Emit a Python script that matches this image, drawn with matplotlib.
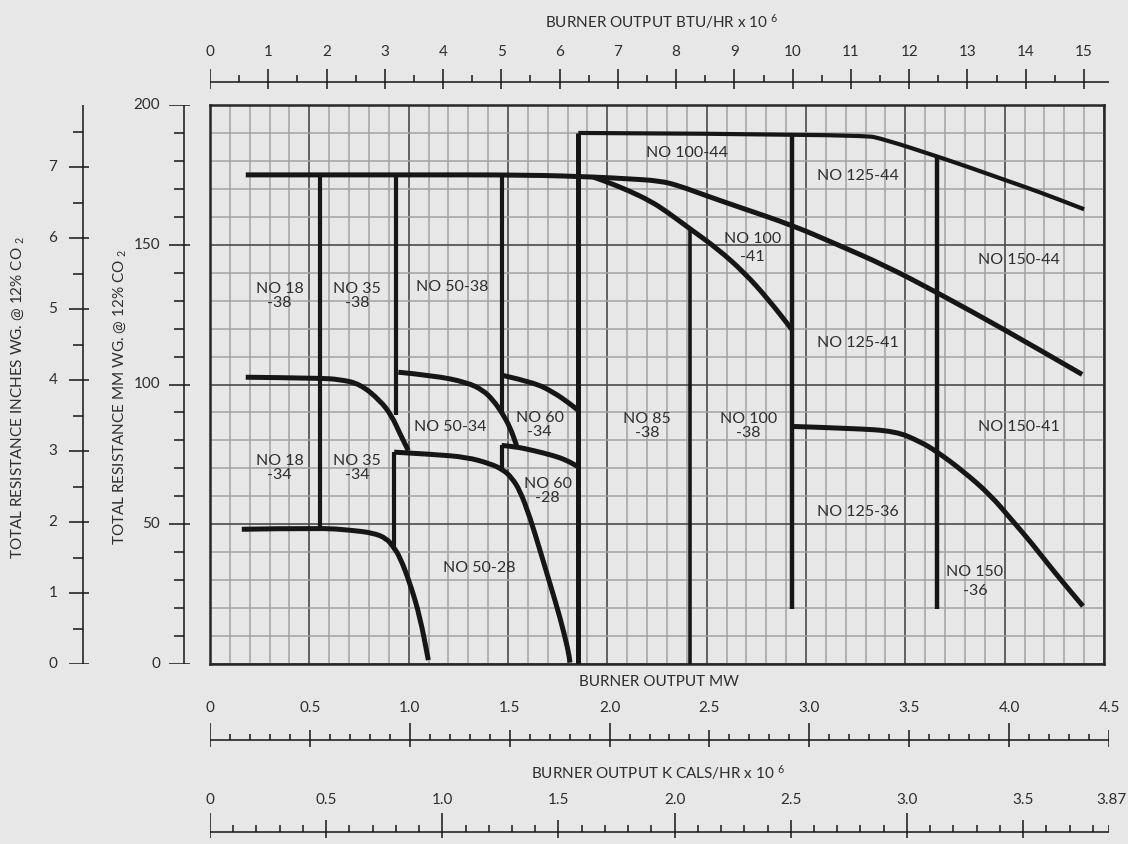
import matplotlib
matplotlib.use("Agg")
import matplotlib.pyplot as plt
from matplotlib.path import Path
from matplotlib.patches import PathPatch
import numpy as np

plt.rcParams['font.family'] = ['Lato', 'DejaVu Sans']
plt.rcParams['mathtext.default'] = 'regular'

# ---------------- data (x: burner output MW, y: resistance mm WG) ----------------
# main "38" line continuing as the NO 125-41 upper boundary
g_x = [0.18, 1.00, 1.60, 1.95, 2.10, 2.265, 2.365, 2.50, 2.67, 2.93, 3.15, 3.40, 3.66, 4.00, 4.39]
g_y = [175.0, 175.0, 175.0, 174.2, 173.6, 172.9, 171.0, 167.5, 163.3, 157.0, 150.3, 142.5, 132.9, 119.6, 103.6]
# NO 100-41 upper boundary
h_x = [1.93, 1.98, 2.11, 2.22, 2.30, 2.42, 2.556, 2.69, 2.81, 2.93]
h_y = [174.2, 173.0, 169.3, 165.5, 161.8, 155.5, 148.5, 140.0, 130.5, 119.6]
# NO 100-44 / 125-44 / 150-44 upper boundary
t_x = [1.854, 3.28, 3.40, 3.66, 3.83, 4.00, 4.17, 4.40]
t_y = [190.0, 189.5, 187.6, 181.6, 177.5, 173.2, 169.0, 162.7]
# NO 18-34 / 35-34 upper boundary
a_x = [0.18, 0.55, 0.654, 0.755, 0.856, 0.914, 0.956, 0.998]
a_y = [102.6, 102.3, 101.8, 100.2, 94.3, 88.9, 82.4, 76.4]
# NO 50-34 upper boundary
b_x = [0.948, 1.124, 1.292, 1.376, 1.426, 1.468, 1.510, 1.543]
b_y = [104.4, 103.2, 100.8, 97.9, 94.3, 90.1, 84.8, 78.2]
# NO 60-34 upper boundary
c_x = [1.476, 1.627, 1.728, 1.812, 1.854]
c_y = [103.2, 100.8, 97.3, 93.1, 90.7]
# NO 50-28 upper boundary (starts at the top of its short vertical step)
d_x = [0.927, 1.124, 1.292, 1.409, 1.476, 1.518, 1.560, 1.610, 1.661, 1.711, 1.761, 1.803, 1.812]
d_y = [75.8, 75.0, 74.0, 71.7, 69.5, 66.7, 62.1, 52.6, 40.7, 28.8, 16.9, 5.0, 0.5]
# NO 60-28 upper boundary
e_x = [1.468, 1.535, 1.627, 1.728, 1.795, 1.854]
e_y = [78.2, 77.8, 76.4, 74.6, 72.9, 70.5]
# NO 18-34 / 35-34 lower line
f_x = [0.16, 0.554, 0.705, 0.822, 0.889, 0.923, 0.956, 1.007, 1.057, 1.099]
f_y = [48.2, 48.7, 47.9, 46.9, 44.9, 41.9, 38.3, 28.8, 16.9, 1.4]
# NO 125-36 / 150-41 boundary
i_x = [2.93, 3.234, 3.452, 3.573, 3.657, 3.793, 3.929, 4.030, 4.132, 4.250, 4.394]
i_y = [85.0, 84.3, 83.3, 79.6, 76.1, 68.9, 60.4, 52.0, 43.6, 32.9, 20.7]

# vertical dividers: x, y bottom, y top
div_x = [0.556, 0.937, 1.468, 1.854, 2.416, 2.930, 3.657, 0.927, 1.468]
div_y0 = [48.7, 89.0, 90.1, 0.0, 0.0, 19.6, 19.6, 40.7, 69.5]
div_y1 = [175.0, 175.0, 175.0, 190.0, 155.3, 190.0, 181.6, 75.8, 78.2]

# region labels
lab_text = ["NO 18\n-38", "NO 35\n-38", "NO 50-38", "NO 18\n-34", "NO 35\n-34", "NO 50-34",
            "NO 60\n-34", "NO 60\n-28", "NO 50-28", "NO 85\n-38", "NO 100\n-38", "NO 125-36",
            "NO 150-41", "NO 150\n-36", "NO 100-44", "NO 125-44", "NO 100\n-41", "NO 150-44",
            "NO 125-41"]
lab_x = [0.35, 0.74, 1.22, 0.35, 0.74, 1.21, 1.66, 1.70, 1.355, 2.20, 2.71, 3.26,
         4.07, 3.85, 2.40, 3.26, 2.73, 4.07, 3.26]
lab_y = [131.7, 131.7, 134.8, 70.2, 70.2, 84.8, 85.5, 61.9, 34.5, 85.2, 85.2, 54.4,
         84.7, 29.5, 182.8, 174.7, 148.9, 144.7, 114.9]

# axis scales
btu_major = list(range(0, 16))
mw_labels = ["0", "0.5", "1.0", "1.5", "2.0", "2.5", "3.0", "3.5", "4.0", "4.5"]
mw_major = [0.0, 0.5, 1.0, 1.5, 2.0, 2.5, 3.0, 3.5, 4.0, 4.5]
kc_labels = ["0", "0.5", "1.0", "1.5", "2.0", "2.5", "3.0", "3.5", "3.87"]
kc_major = [0.0, 0.5, 1.0, 1.5, 2.0, 2.5, 3.0, 3.5, 3.87]
mm_major = [0, 50, 100, 150, 200]
in_major = [0, 1, 2, 3, 4, 5, 6, 7]

# ---------------- figure ----------------
W, H = 1128, 844
BG = '#e7e7e7'
INK = '#161616'
TXT = '#2e2e2e'
FS = 11

fig = plt.figure(figsize=(W / 100, H / 100), dpi=100, facecolor=BG)


def rect(x0, y0, x1, y1):
    return [x0 / W, 1 - y1 / H, (x1 - x0) / W, (y1 - y0) / H]


def blank(a):
    a.set_axis_off()
    a.patch.set_alpha(0)


def smooth_curve(a, xs, ys, lw):
    """Quadratic Bezier path using the read points as control points."""
    pts = list(zip(xs, ys))
    verts = [pts[0]]
    codes = [Path.MOVETO]
    for k in range(1, len(pts) - 1):
        mid = ((pts[k][0] + pts[k + 1][0]) / 2, (pts[k][1] + pts[k + 1][1]) / 2)
        verts += [pts[k], mid]
        codes += [Path.CURVE3, Path.CURVE3]
    verts.append(pts[-1])
    codes.append(Path.LINETO)
    a.add_patch(PathPatch(Path(verts, codes), fill=False, edgecolor=INK, lw=lw,
                          joinstyle='round', capstyle='butt', zorder=3))


# main chart
ax = fig.add_axes(rect(210, 105, 1104, 664))
ax.set_facecolor(BG)
ax.set_xlim(0, 4.5)
ax.set_ylim(0, 200)
ax.set_xticks(np.arange(0, 4.51, 0.5))
ax.set_xticks(np.arange(0, 4.51, 0.1), minor=True)
ax.set_yticks(np.arange(0, 201, 50))
ax.set_yticks(np.arange(0, 201, 10), minor=True)
ax.grid(which='minor', color='#a2a2a2', lw=1.1)
ax.grid(which='major', color='#4a4a4a', lw=1.2)
ax.tick_params(which='both', length=0, labelbottom=False, labelleft=False)
ax.set_axisbelow(True)
for s in ax.spines.values():
    s.set_color('#262626')
    s.set_linewidth(1.8)

for xs, ys in [(g_x, g_y), (h_x, h_y), (a_x, a_y), (b_x, b_y), (c_x, c_y),
               (d_x, d_y), (e_x, e_y), (f_x, f_y), (i_x, i_y)]:
    smooth_curve(ax, xs, ys, 3.6)
smooth_curve(ax, t_x, t_y, 3.0)
div_w = [3.0, 3.0, 3.0, 3.6, 2.6, 3.2, 3.2, 3.0, 3.0]
for x, y0, y1, w in zip(div_x, div_y0, div_y1, div_w):
    ax.plot([x, x], [y0, y1], color=INK, lw=w, solid_capstyle='butt', zorder=3)

for s, x, y in zip(lab_text, lab_x, lab_y):
    ls = 1.4 if s in ("NO 100\n-41", "NO 150\n-36") else 1.05
    ax.text(x, y, s, ha='center', va='center', fontsize=11.5, color=TXT,
            linespacing=ls, zorder=4)

# ---------------- top BTU axis ----------------
axt = fig.add_axes(rect(210, 40, 1109, 95))
blank(axt)
btu_end = 15.0 * (1109 - 210) / (1084 - 210)
axt.set_xlim(0, btu_end)
axt.set_ylim(95, 40)
axt.plot([0, btu_end], [82.3, 82.3], color=INK, lw=1.1, solid_capstyle='butt')
axt.vlines(btu_major, 69, 88.5, color=INK, lw=1.1)
axt.vlines([b + 0.5 for b in btu_major[:-1]], 75, 82.3, color=INK, lw=1.1)
for b in btu_major:
    axt.text(b, 52, str(b), ha='center', va='center', fontsize=FS, color=TXT)
fig.text(662 / W, 1 - 22 / H, "BURNER OUTPUT BTU/HR x 10 $^{6}$", ha='center', va='center',
         fontsize=FS, color=TXT)

# ---------------- bottom MW axis ----------------
axm = fig.add_axes(rect(210, 690, 1109, 760))
blank(axm)
axm.set_xlim(0, 4.5)
axm.set_ylim(760, 690)
axm.plot([0, 4.5], [740, 740], color=INK, lw=1.1, solid_capstyle='butt')
for v in mw_major:
    top = 723 if abs(v - round(v)) < 1e-6 else 730
    axm.vlines(v, top, 747, color=INK, lw=1.1)
mw_minor = [k / 10 for k in range(46) if k % 5 != 0]
axm.vlines(mw_minor, 734, 740, color=INK, lw=1.1)
for v, s in zip(mw_major, mw_labels):
    axm.text(v, 708, s, ha='center', va='center', fontsize=FS, color=TXT)
fig.text(659 / W, 1 - 682 / H, "BURNER OUTPUT MW", ha='center', va='center',
         fontsize=FS, color=TXT)

# ---------------- bottom K CALS axis ----------------
axk = fig.add_axes(rect(210, 780, 1109, 844))
blank(axk)
axk.set_xlim(0, 3.87)
axk.set_ylim(844, 780)
axk.plot([0, 3.87], [832, 832], color=INK, lw=1.1, solid_capstyle='butt')
for v in kc_major[:-1]:
    top = 813 if abs(v - round(v)) < 1e-6 else 820
    axk.vlines(v, top, 838, color=INK, lw=1.1)
kc_minor = [k / 10 for k in range(39) if k % 5 != 0] + [3.87]
axk.vlines(kc_minor, 825, 832, color=INK, lw=1.1)
for v, s in zip(kc_major, kc_labels):
    axk.text(v + (0.01 if s == "3.87" else 0), 800, s, ha='center', va='center',
             fontsize=FS, color=TXT)
fig.text(658 / W, 1 - 773 / H, "BURNER OUTPUT K CALS/HR x 10 $^{6}$", ha='center',
         va='center', fontsize=FS, color=TXT)

# ---------------- left mm axis ----------------
axl = fig.add_axes(rect(0, 105, 205, 664))
blank(axl)
axl.set_xlim(0, 205)
axl.set_ylim(0, 200)
axl.plot([183.5, 183.5], [0, 200], color=INK, lw=1.1, solid_capstyle='butt')
axl.hlines(mm_major, 169, 190, color=INK, lw=1.1)
mm_minor = [m for m in range(0, 201, 10) if m % 50 != 0]
axl.hlines(mm_minor, 174, 183.5, color=INK, lw=1.1)
for m in mm_major:
    axl.text(160, m, str(m), ha='right', va='center', fontsize=FS, color=TXT)

# ---------------- left inches axis ----------------
axi = fig.add_axes(rect(0, 105, 205, 664))
blank(axi)
axi.set_xlim(0, 205)
in_top = 200 / 25.4
axi.set_ylim(0, in_top)
axi.plot([83, 83], [0, in_top], color=INK, lw=1.1, solid_capstyle='butt')
axi.hlines(in_major, 69, 89, color=INK, lw=1.1)
axi.hlines([v + 0.5 for v in in_major], 73, 83, color=INK, lw=1.1)
for v in in_major:
    axi.text(53, v, str(v), ha='center', va='center', fontsize=FS, color=TXT)

fig.text(18 / W, 1 - 397 / H, "TOTAL RESISTANCE INCHES WG. @ 12% CO $_{2}$", rotation=90,
         ha='center', va='center', fontsize=FS, color=TXT)
fig.text(120 / W, 1 - 397 / H, "TOTAL RESISTANCE MM WG. @ 12% CO $_{2}$", rotation=90,
         ha='center', va='center', fontsize=FS, color=TXT)

fig.savefig("out.png", dpi=100, facecolor=BG)
